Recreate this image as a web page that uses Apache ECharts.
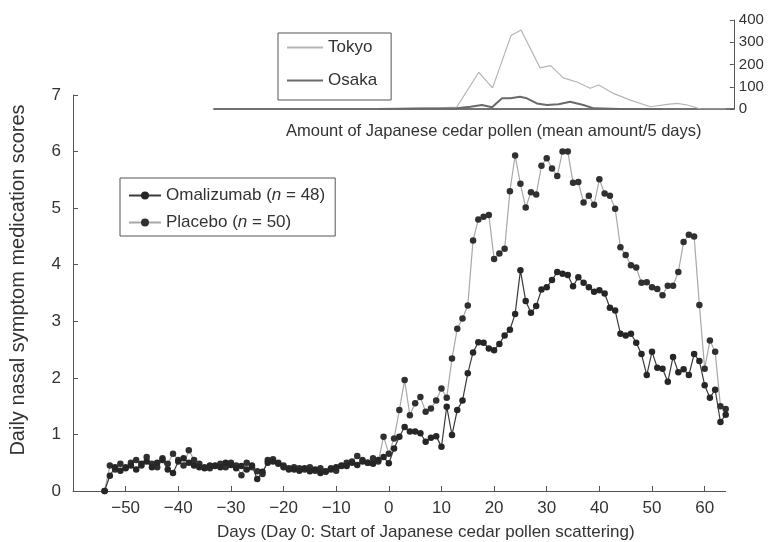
<!DOCTYPE html>
<html>
<head>
<meta charset="utf-8">
<script src="https://cdn.jsdelivr.net/npm/echarts@6/dist/echarts.min.js"></script>
<style>
  html, body { margin: 0; padding: 0; background: #fff; }
  #chart { width: 768px; height: 542px; }
</style>
</head>
<body>
<div id="chart"></div>
<script>
// Daily nasal symptom medication scores, day -54 to day 64
const firstDay = -54;
const omalizumabScores = [
  0.00, 0.27, 0.42, 0.36, 0.40, 0.45, 0.38, 0.48, 0.52, 0.42,
  0.50, 0.55, 0.38, 0.32, 0.52, 0.58, 0.50, 0.45, 0.42, 0.40,
  0.45, 0.44, 0.42, 0.50, 0.46, 0.40, 0.44, 0.38, 0.45, 0.21,
  0.34, 0.50, 0.52, 0.48, 0.42, 0.40, 0.38, 0.36, 0.40, 0.35,
  0.38, 0.32, 0.34, 0.38, 0.42, 0.45, 0.44, 0.50, 0.46, 0.52,
  0.50, 0.48, 0.55, 0.60,
  0.49, 0.75, 0.96, 1.13, 1.05, 1.05, 1.02, 0.87, 0.94, 0.97,
  0.78, 1.49, 0.99, 1.43, 1.60, 2.08, 2.45, 2.63, 2.62, 2.52,
  2.49, 2.60, 2.75, 2.85, 3.13, 3.90, 3.36, 3.15, 3.27, 3.56,
  3.60, 3.73, 3.87, 3.84, 3.82, 3.62, 3.78, 3.68, 3.60, 3.52,
  3.55, 3.49, 3.24, 3.19, 2.78, 2.75, 2.78, 2.62, 2.42, 2.05,
  2.46, 2.18, 2.16, 1.93, 2.37, 2.10, 2.15, 2.05, 2.42, 2.30,
  1.87, 1.65, 1.79, 1.22, 1.35
];
const placeboScores = [
  0.00, 0.45, 0.38, 0.48, 0.42, 0.50, 0.55, 0.45, 0.60, 0.48,
  0.42, 0.58, 0.48, 0.66, 0.55, 0.45, 0.72, 0.55, 0.48, 0.42,
  0.40, 0.45, 0.48, 0.42, 0.50, 0.45, 0.28, 0.50, 0.42, 0.35,
  0.30, 0.55, 0.56, 0.50, 0.45, 0.38, 0.42, 0.40, 0.38, 0.42,
  0.36, 0.40, 0.35, 0.40, 0.36, 0.44, 0.50, 0.52, 0.62, 0.55,
  0.50, 0.58, 0.52, 0.96,
  0.66, 0.93, 1.43, 1.96, 1.34, 1.55, 1.66, 1.40, 1.46, 1.60,
  1.81, 1.65, 2.34, 2.87, 3.05, 3.28, 4.43, 4.80, 4.85, 4.88,
  4.10, 4.20, 4.28, 5.30, 5.93, 5.43, 5.01, 5.28, 5.24, 5.75,
  5.88, 5.70, 5.57, 6.00, 6.00, 5.45, 5.46, 5.10, 5.22, 5.06,
  5.51, 5.26, 5.22, 4.99, 4.31, 4.17, 3.99, 3.95, 3.68, 3.69,
  3.60, 3.57, 3.46, 3.63, 3.63, 3.87, 4.40, 4.53, 4.50, 3.29,
  2.16, 2.66, 2.46, 1.50, 1.45
];
const groupNames = ['Omalizumab', 'Placebo'];
const groupSizes = [48, 50];

// Japanese cedar pollen, mean amount per 5 days
const tokyoDays   = [-2, 5, 10, 13, 17.2, 19.8, 23.3, 25.2, 28.8, 30.8, 33.2, 35.9, 38.3, 39.9, 42.7, 45.9, 49.7, 52.9, 54.8, 56.7, 59.2, 64];
const tokyoPollen = [0, 3, 5, 8, 165, 95, 330, 355, 185, 195, 140, 120, 93, 108, 70, 40, 10, 21, 25, 18, 0, 0];
const osakaDays   = [-2, 6, 13, 15.6, 17.8, 19.7, 21.6, 23.2, 25, 26.3, 28.2, 30.1, 32.3, 34.5, 37, 39, 44, 52];
const osakaPollen = [0, 2, 3, 10, 18, 8, 48, 48, 55, 48, 25, 18, 21, 33, 18, 3, 0, 0];
const cityNames = ['Tokyo', 'Osaka'];

const dayTicks = [-50, -40, -30, -20, -10, 0, 10, 20, 30, 40, 50, 60];

const pairs = (xs, ys) => ys.map((v, i) => [xs[i], v]);
const dayPairs = ys => ys.map((v, i) => [firstDay + i, v]);

const FONT = "'Liberation Sans', Arial, sans-serif";
const TXT = '#333';
const AX = '#555';

const chart = echarts.init(document.getElementById('chart'), null, { renderer: 'canvas' });

chart.setOption({
  backgroundColor: '#fff',
  animation: false,
  textStyle: { fontFamily: FONT, color: TXT },
  title: [
    {
      text: 'Days (Day 0: Start of Japanese cedar pollen scattering)',
      left: 212, top: 519,
      textStyle: { fontFamily: FONT, fontSize: 17, fontWeight: 'normal', color: TXT }
    },
    {
      text: 'Amount of Japanese cedar pollen (mean amount/5 days)',
      left: 281, top: 118,
      textStyle: { fontFamily: FONT, fontSize: 16.5, fontWeight: 'normal', color: TXT }
    }
  ],
  legend: [
    {
      data: groupNames,
      orient: 'vertical',
      left: 120, top: 178,
      padding: [9, 10, 5, 8],
      itemWidth: 32, itemHeight: 10, itemGap: 10,
      borderColor: '#555', borderWidth: 1,
      formatter: name => `${name} ({i|n} = ${groupSizes[groupNames.indexOf(name)]})`,
      textStyle: {
        fontFamily: FONT, fontSize: 17, color: TXT,
        rich: { i: { fontFamily: FONT, fontSize: 17, fontStyle: 'italic', color: TXT } }
      }
    },
    {
      data: cityNames,
      orient: 'vertical',
      left: 278, top: 33,
      padding: [6, 14, 11, 8],
      itemWidth: 36, itemHeight: 10, itemGap: 16,
      borderColor: '#555', borderWidth: 1,
      itemStyle: { opacity: 0 },
      textStyle: { fontFamily: FONT, fontSize: 17, color: TXT }
    }
  ],
  grid: [
    { left: 71, right: 42.3, top: 95, bottom: 51 },
    { left: 213.8, width: 520, top: 20, height: 89 }
  ],
  xAxis: [
    {
      gridIndex: 0, type: 'value', min: -60, max: 64,
      axisLine: { show: true, onZero: false, lineStyle: { color: AX, width: 1 } },
      axisTick: { show: true, inside: true, length: 5, customValues: dayTicks, lineStyle: { color: AX } },
      axisLabel: {
        customValues: dayTicks, margin: 9, fontSize: 17, color: TXT, fontFamily: FONT,
        formatter: v => (v < 0 ? '\u2212' + Math.abs(v) : String(v))
      },
      splitLine: { show: false }
    },
    {
      gridIndex: 1, type: 'value', min: -33, max: 65.5,
      axisLine: { show: true, onZero: false, lineStyle: { color: '#444', width: 1.5 } },
      axisTick: { show: false }, axisLabel: { show: false }, splitLine: { show: false }
    }
  ],
  yAxis: [
    {
      gridIndex: 0, type: 'value', min: 0, max: 7, interval: 1,
      name: 'Daily nasal symptom medication scores',
      nameLocation: 'middle', nameGap: 45,
      nameTextStyle: { fontFamily: FONT, fontSize: 20, color: TXT, padding: [0, 0, 0, 26] },
      axisLine: { show: true, onZero: false, lineStyle: { color: AX, width: 1 } },
      axisTick: { show: true, inside: true, length: 5, lineStyle: { color: AX } },
      axisLabel: { margin: 12, fontSize: 17, color: TXT, fontFamily: FONT },
      splitLine: { show: false }
    },
    {
      gridIndex: 1, type: 'value', position: 'right', min: 0, max: 400, interval: 100,
      axisLine: { show: true, onZero: false, lineStyle: { color: AX, width: 1 } },
      axisTick: { show: true, inside: true, length: 4, lineStyle: { color: AX } },
      axisLabel: { margin: 5, fontSize: 15, color: TXT, fontFamily: FONT },
      splitLine: { show: false }
    }
  ],
  series: [
    {
      name: groupNames[0], type: 'line', xAxisIndex: 0, yAxisIndex: 0,
      data: dayPairs(omalizumabScores),
      symbol: 'circle', symbolSize: 6.5,
      itemStyle: { color: '#262626' },
      lineStyle: { color: '#3a3a3a', width: 1.2 },
      z: 3
    },
    {
      name: groupNames[1], type: 'line', xAxisIndex: 0, yAxisIndex: 0,
      data: dayPairs(placeboScores),
      symbol: 'circle', symbolSize: 6.5,
      itemStyle: { color: '#303030' },
      lineStyle: { color: '#a8a8a8', width: 1.2 },
      z: 2
    },
    {
      name: cityNames[0], type: 'line', xAxisIndex: 1, yAxisIndex: 1,
      data: pairs(tokyoDays, tokyoPollen),
      symbol: 'none',
      itemStyle: { color: '#b4b4b4' },
      lineStyle: { color: '#b4b4b4', width: 1.2 },
      z: 2
    },
    {
      name: cityNames[1], type: 'line', xAxisIndex: 1, yAxisIndex: 1,
      data: pairs(osakaDays, osakaPollen),
      symbol: 'none',
      itemStyle: { color: '#6a6a6a' },
      lineStyle: { color: '#6a6a6a', width: 2 },
      z: 3
    }
  ]
});
</script>
</body>
</html>
